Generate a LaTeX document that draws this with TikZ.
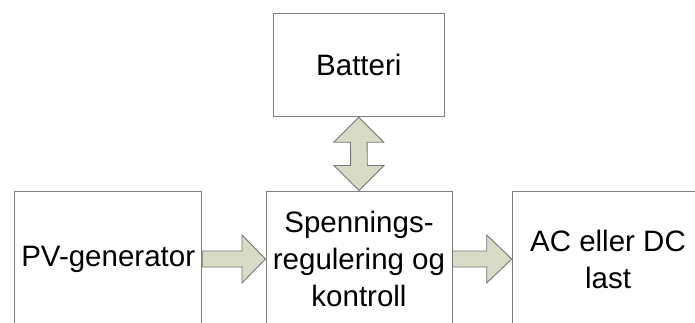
\documentclass[tikz,border=0pt]{standalone}
\usepackage{fontspec}
\setmainfont{Liberation Sans}
\usetikzlibrary{calc}
\definecolor{boxline}{HTML}{808080}
\definecolor{arrowfill}{HTML}{D8DCC6}
\definecolor{arrowline}{HTML}{767676}
\tikzset{
  block/.style={draw=boxline, line width=1pt, fill=white, inner sep=0pt,
    align=center, font=\fontsize{29.5}{36.9}\selectfont},
  fat/.style={draw=arrowline, fill=arrowfill, line width=0.9pt, line join=miter}
}
\begin{document}
\begin{tikzpicture}[x=1pt, y=-1pt]
  \useasboundingbox (0,0) rectangle (695,322);
  \clip (0,0) rectangle (695,322);
  \fill[white] (0,0) rectangle (695,322);

  % blocks
  \node[block, minimum width=171pt, minimum height=103.4pt] (bat) at (358.8,65) {Batteri};
  \node[block, minimum width=187pt, minimum height=136pt] (pv) at (108.2,259) {PV-generator};
  \node[block, minimum width=186pt, minimum height=136pt] (reg) at (359,259)
    {Spennings-\\regulering og\\kontroll};
  \node[block, minimum width=191.6pt, minimum height=136pt] (last) at (608,259)
    {AC eller DC\\last};

  % block arrow PV -> regulering
  \draw[fat] ([yshift=8pt]pv.east)
    -- ([xshift=-23.5pt,yshift=8pt]reg.west)
    -- ([xshift=-23.5pt,yshift=24pt]reg.west)
    -- (reg.west)
    -- ([xshift=-23.5pt,yshift=-24pt]reg.west)
    -- ([xshift=-23.5pt,yshift=-8pt]reg.west)
    -- ([yshift=-8pt]pv.east) -- cycle;

  % block arrow regulering -> last
  \draw[fat] ([yshift=8pt]reg.east)
    -- ([xshift=-25pt,yshift=8pt]last.west)
    -- ([xshift=-25pt,yshift=24pt]last.west)
    -- (last.west)
    -- ([xshift=-25pt,yshift=-24pt]last.west)
    -- ([xshift=-25pt,yshift=-8pt]last.west)
    -- ([yshift=-8pt]reg.east) -- cycle;

  % two-way block arrow batteri <-> regulering
  \draw[fat] (bat.south)
    -- ([xshift=25pt,yshift=-25pt]bat.south)
    -- ([xshift=8.3pt,yshift=-25pt]bat.south)
    -- ([xshift=8.3pt,yshift=25pt]reg.north)
    -- ([xshift=25pt,yshift=25pt]reg.north)
    -- (reg.north)
    -- ([xshift=-25pt,yshift=25pt]reg.north)
    -- ([xshift=-8.3pt,yshift=25pt]reg.north)
    -- ([xshift=-8.3pt,yshift=-25pt]bat.south)
    -- ([xshift=-25pt,yshift=-25pt]bat.south) -- cycle;
\end{tikzpicture}
\end{document}
